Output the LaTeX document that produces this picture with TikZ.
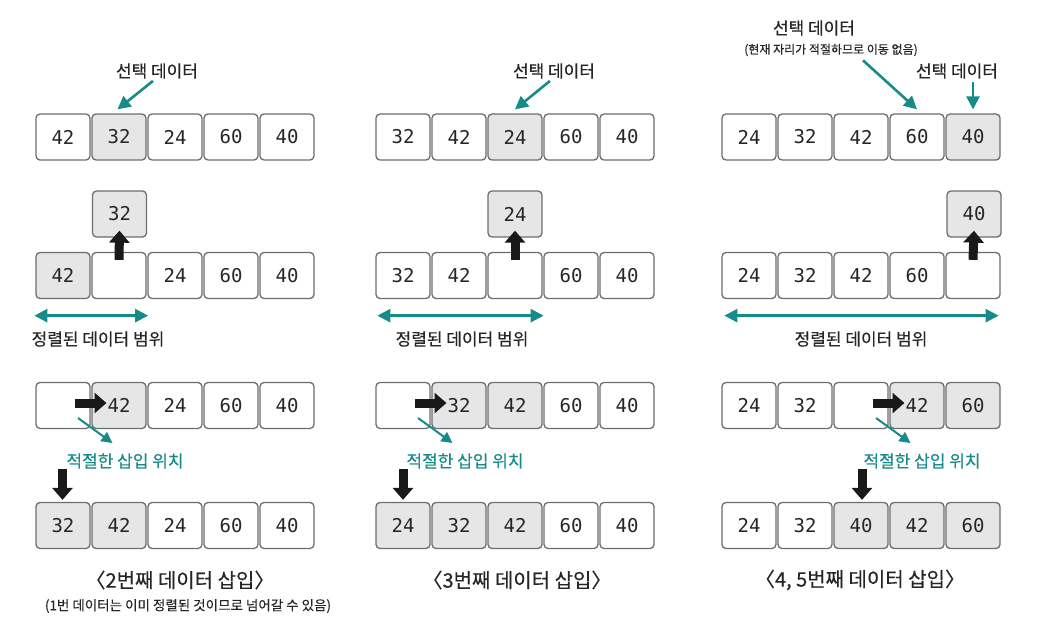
\documentclass[tikz,border=0pt]{standalone}
\usepackage{fontspec}
\setmainfont{Noto Sans CJK KR}[FakeBold=0.25]
\newfontfamily\monof{DejaVu Sans Mono}
\usetikzlibrary{arrows.meta}
\definecolor{tealc}{HTML}{178A8A}
\definecolor{cellgray}{HTML}{E6E6E6}
\definecolor{edgegray}{HTML}{6E6E6E}
\definecolor{inkc}{HTML}{262626}
\newcommand\cellrow[4]{%
  \foreach \v/\f [count=\k] in {#4} {\node[cell, fill=\f] (#1\k) at ({#2+27+56*(\k-1)}, #3) {\v};}}
\begin{document}
\begin{tikzpicture}[x=1pt,y=-1pt,
  cell/.style={draw=edgegray, line width=1.3pt, rounded corners=4pt, minimum width=54pt, minimum height=46pt, inner sep=0pt, font=\monof\fontsize{19}{19}\selectfont, text=inkc},
  lbl/.style={font=\fontsize{17}{17}\selectfont, text=inkc, inner sep=0pt},
  tlbl/.style={lbl, text=tealc},
  small/.style={font=\fontsize{12}{12}\selectfont, text=inkc, inner sep=0pt},
  ttl/.style={font=\fontsize{20}{20}\selectfont, text=inkc, inner sep=0pt},
  tarr/.style={draw=tealc, line width=2.6pt, -{Triangle[width=13pt,length=13pt]}},
  tarrs/.style={draw=tealc, line width=2pt, -{Triangle[width=11pt,length=11pt]}},
  darr/.style={draw=tealc, line width=2.6pt, {Triangle[width=13pt,length=13pt]}-{Triangle[width=13pt,length=13pt]}},
  barr/.style={draw=black!90, line width=9pt, -{Triangle[width=20pt,length=12pt]}},
]
\fill[white] (0,0) rectangle (1044,643);
\useasboundingbox (0,0) rectangle (1044,643);

% ---------- Panel 1 ----------
\cellrow{p1a}{36}{137}{42/white,32/cellgray,24/white,60/white,40/white}
\cellrow{p1b}{36}{275.5}{42/cellgray,{}/white,24/white,60/white,40/white}
\cellrow{p1c}{36}{405.5}{{}/white,42/cellgray,24/white,60/white,40/white}
\cellrow{p1d}{36}{525.5}{32/cellgray,42/cellgray,24/white,60/white,40/white}
\node[cell, fill=cellgray] (p1up) at (119.5,214) {32};
\node[lbl] (p1sel) at (157,71) {선택 데이터};
\draw[tarr] ([xshift=-4pt,yshift=-2pt]p1sel.south) -- ([xshift=-1.5pt,yshift=4pt]p1a2.north);
\draw[barr] ([yshift=-8pt]p1b2.north) -- ([yshift=7pt]p1up.south);
\draw[darr] ([xshift=-1pt,yshift=-16.5pt]p1b1.south west) -- ([xshift=1.5pt,yshift=-16.5pt]p1b2.south east);
\node[lbl] (p1rng) at (98,339) {정렬된 데이터 범위};
\draw[barr] ([xshift=12pt,yshift=2.5pt]p1c1.center) -- ([xshift=-12.5pt,yshift=2.5pt]p1c2.center);
\draw[tarrs] ([xshift=15pt,yshift=-12.5pt]p1c1.center) -- ([xshift=-6.5pt,yshift=-37.5pt]p1c2.center);
\node[tlbl] (p1ins) at (125,461) {적절한 삽입 위치};
\draw[barr] ([xshift=-0.5pt,yshift=33pt]p1d1.north) -- ([xshift=-0.5pt,yshift=2pt]p1d1.north);
\node[ttl] (p1t) at (180,580) {〈2번째 데이터 삽입〉};
\node[font=\fontsize{13.5}{13.5}\selectfont, text=inkc, inner sep=0pt] (p1s) at (188,606) {(1번 데이터는 이미 정렬된 것이므로 넘어갈 수 있음)};

% ---------- Panel 2 ----------
\cellrow{p2a}{376}{137}{32/white,42/white,24/cellgray,60/white,40/white}
\cellrow{p2b}{376}{275.5}{32/white,42/white,{}/white,60/white,40/white}
\cellrow{p2c}{376}{405.5}{{}/white,32/cellgray,42/cellgray,60/white,40/white}
\cellrow{p2d}{376}{525.5}{24/cellgray,32/cellgray,42/cellgray,60/white,40/white}
\node[cell, fill=cellgray] (p2up) at (515,214) {24};
\node[lbl] (p2sel) at (554,71) {선택 데이터};
\draw[tarr] ([xshift=-4pt,yshift=-2pt]p2sel.south) -- ([xshift=0pt,yshift=4pt]p2a3.north);
\draw[barr] ([yshift=-8pt]p2b3.north) -- ([yshift=7pt]p2up.south);
\draw[darr] ([xshift=2pt,yshift=-16.5pt]p2b1.south west) -- ([xshift=1pt,yshift=-16.5pt]p2b3.south east);
\node[lbl] (p2rng) at (462,339) {정렬된 데이터 범위};
\draw[barr] ([xshift=12pt,yshift=2.5pt]p2c1.center) -- ([xshift=-12.5pt,yshift=2.5pt]p2c2.center);
\draw[tarrs] ([xshift=15pt,yshift=-12.5pt]p2c1.center) -- ([xshift=-6.5pt,yshift=-37.5pt]p2c2.center);
\node[tlbl] (p2ins) at (465,461) {적절한 삽입 위치};
\draw[barr] ([xshift=0pt,yshift=33pt]p2d1.north) -- ([xshift=0pt,yshift=2pt]p2d1.north);
\node[ttl] (p2t) at (517,580) {〈3번째 데이터 삽입〉};

% ---------- Panel 3 ----------
\cellrow{p3a}{722}{137}{24/white,32/white,42/white,60/white,40/cellgray}
\cellrow{p3b}{722}{275.5}{24/white,32/white,42/white,60/white,{}/white}
\cellrow{p3c}{722}{405.5}{24/white,32/white,{}/white,42/cellgray,60/cellgray}
\cellrow{p3d}{722}{525.5}{24/white,32/white,40/cellgray,42/cellgray,60/cellgray}
\node[cell, fill=cellgray] (p3up) at (974,214) {40};
\node[lbl] (p3selA) at (814,28) {선택 데이터};
\node[small] (p3note) at (831,50) {(현재 자리가 적절하므로 이동 없음)};
\draw[tarr] ([xshift=32pt,yshift=-4pt]p3note.south) -- ([xshift=0pt,yshift=4pt]p3a4.north);
\node[lbl] (p3selB) at (957,71) {선택 데이터};
\draw[tarr] ([xshift=16pt,yshift=-3pt]p3selB.south) -- ([xshift=0pt,yshift=4pt]p3a5.north);
\draw[barr] ([yshift=-8pt]p3b5.north) -- ([yshift=7pt]p3up.south);
\draw[darr] ([xshift=3pt,yshift=-16.5pt]p3b1.south west) -- ([xshift=-2pt,yshift=-16.5pt]p3b5.south east);
\node[lbl] (p3rng) at (861,339) {정렬된 데이터 범위};
\draw[barr] ([xshift=12pt,yshift=2.5pt]p3c3.center) -- ([xshift=-12.5pt,yshift=2.5pt]p3c4.center);
\draw[tarrs] ([xshift=15pt,yshift=-12.5pt]p3c3.center) -- ([xshift=-6.5pt,yshift=-37.5pt]p3c4.center);
\node[tlbl] (p3ins) at (922,461) {적절한 삽입 위치};
\draw[barr] ([xshift=1pt,yshift=33pt]p3d3.north) -- ([xshift=1pt,yshift=2pt]p3d3.north);
\node[ttl] (p3t) at (860,580) {〈4, 5번째 데이터 삽입〉};
\end{tikzpicture}
\end{document}
